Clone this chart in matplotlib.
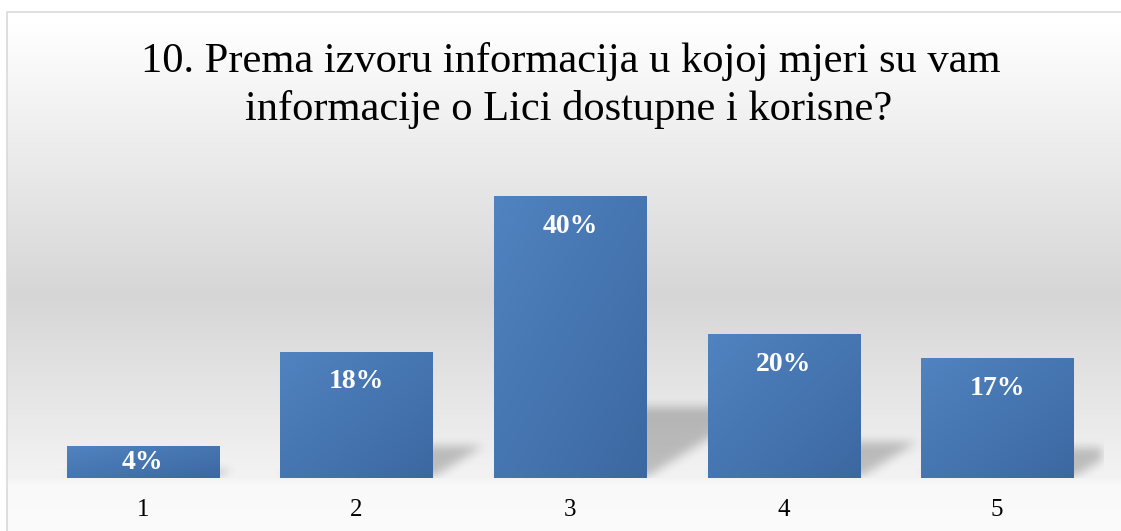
import numpy as np
import matplotlib
matplotlib.use("Agg")
import matplotlib.pyplot as plt

# ---- data ----
categories = ["1", "2", "3", "4", "5"]
values = [4.5, 17.9, 40.0, 20.4, 17.0]
value_labels = ["4%", "18%", "40%", "20%", "17%"]
title_lines = ["10. Prema izvoru informacija u kojoj mjeri su vam",
               "informacije o Lici dostupne i korisne?"]

W, H, DPI = 1121, 531, 100
SERIF = ["Liberation Serif", "DejaVu Serif"]

fig = plt.figure(figsize=(W / DPI, H / DPI), dpi=DPI)
fig.patch.set_facecolor("white")

# ---- chart-area background (vertical gradient) ----
bg = fig.add_axes([0, 0, 1, 1], zorder=0)
bg.set_xlim(0, W)
bg.set_ylim(H, 0)
bg.axis("off")
ys = np.arange(H)
stops_y = [12, 290, 476, 484, 531]
stops_v = [255, 214, 243, 249, 251]
col = np.interp(ys, stops_y, stops_v) / 255.0
grad = np.repeat(col[:, None], 2, axis=1)
grad = np.dstack([grad, grad, grad])
bg.imshow(grad, extent=(7, W, H, 12), aspect="auto", interpolation="bilinear", zorder=0)
bg.plot([7, 7, W], [H, 12, 12], color="#D9D9D9", lw=1.2, zorder=1, solid_capstyle="butt")

# ---- title ----
fig.text(571 / W, 1 - 72 / H, title_lines[0], ha="center", va="baseline",
         fontsize=30.6, family=SERIF, color="black")
fig.text(569 / W, 1 - 120 / H, title_lines[1], ha="center", va="baseline",
         fontsize=30.6, family=SERIF, color="black")

# ---- plot axes ----
left_px, right_px, base_px, top_px = 36, 1104, 478, 161
ax = fig.add_axes([left_px / W, (H - base_px) / H, (right_px - left_px) / W,
                   (base_px - top_px) / H], zorder=1)
ax.patch.set_alpha(0)
n = len(categories)
xpos = np.arange(1, n + 1)
ax.set_xlim(0.5, n + 0.5)
ax.set_ylim(0, 45)
for s in ax.spines.values():
    s.set_visible(False)
ax.set_yticks([])
ax.set_xticks(xpos)
ax.set_xticklabels(categories, family=SERIF, fontsize=18)
ax.tick_params(axis="x", length=0, pad=15)

bar_w = 0.712
bars = ax.bar(xpos, values, width=bar_w, color="#4A7AB5", zorder=2, linewidth=0)

# ---- shadows (perspective, computed in axes pixel space) ----
AW = right_px - left_px
AH = base_px - top_px
ppx = AW / (n)          # pixels per x unit
ppy = AH / 45.0         # pixels per y unit
mask = np.zeros((AH, AW))
pxs = np.arange(AW) + 0.5
for x, v in zip(xpos, values):
    xl = (x - bar_w / 2 - 0.5) * ppx
    xr = (x + bar_w / 2 - 0.5) * ppx
    hp = v * ppy
    hs = 0.25 * hp
    sk = 1.6 * hs
    for py in range(int(np.ceil(hs))):
        sh = sk * py / hs
        mask[py, (pxs >= xl + sh) & (pxs <= xr + sh)] = 1.0


def box_blur(a, r, axis):
    padw = [(0, 0), (0, 0)]
    padw[axis] = (r, r)
    p = np.pad(a, padw, mode="constant")
    c = np.cumsum(p, axis=axis)
    c = np.insert(c, 0, 0, axis=axis)
    m = a.shape[axis]
    hi = np.take(c, np.arange(2 * r + 1, 2 * r + 1 + m), axis=axis)
    lo = np.take(c, np.arange(0, m), axis=axis)
    return (hi - lo) / (2 * r + 1)


for _ in range(3):
    mask = box_blur(mask, 4, 0)
    mask = box_blur(mask, 5, 1)

shadow = np.zeros((AH, AW, 4))
shadow[..., 3] = 0.22 * mask
ax.imshow(shadow, extent=(0.5, n + 0.5, 0, 45), origin="lower", aspect="auto",
          zorder=1, interpolation="bilinear")

# ---- bar gradient fill (light top-left -> dark bottom-right) ----
c_light = np.array([80, 131, 192]) / 255.0
c_dark = np.array([60, 104, 161]) / 255.0
gx, gy = np.meshgrid(np.linspace(0, 1, 64), np.linspace(0, 1, 64))
t = (gx + gy) / 2.0
gimg = c_light[None, None, :] * (1 - t[..., None]) + c_dark[None, None, :] * t[..., None]
for b in bars:
    x0, w_, h_ = b.get_x(), b.get_width(), b.get_height()
    im = ax.imshow(gimg, extent=(x0, x0 + w_, 0, h_), origin="upper", aspect="auto",
                   zorder=3, interpolation="bilinear")
    im.set_clip_path(b)
ax.set_xlim(0.5, n + 0.5)
ax.set_ylim(0, 45)

# ---- value labels ----
for x, v, lab in zip(xpos, values, value_labels):
    hp = v * ppy
    off = min(30.0, hp / 2.0)
    ax.annotate(lab, (x, v), xytext=(0, -off * 72 / DPI), textcoords="offset points",
                ha="center", va="center", color="white", fontsize=20,
                fontweight="bold", family=SERIF, zorder=4)

fig.savefig("out.png", dpi=DPI)
